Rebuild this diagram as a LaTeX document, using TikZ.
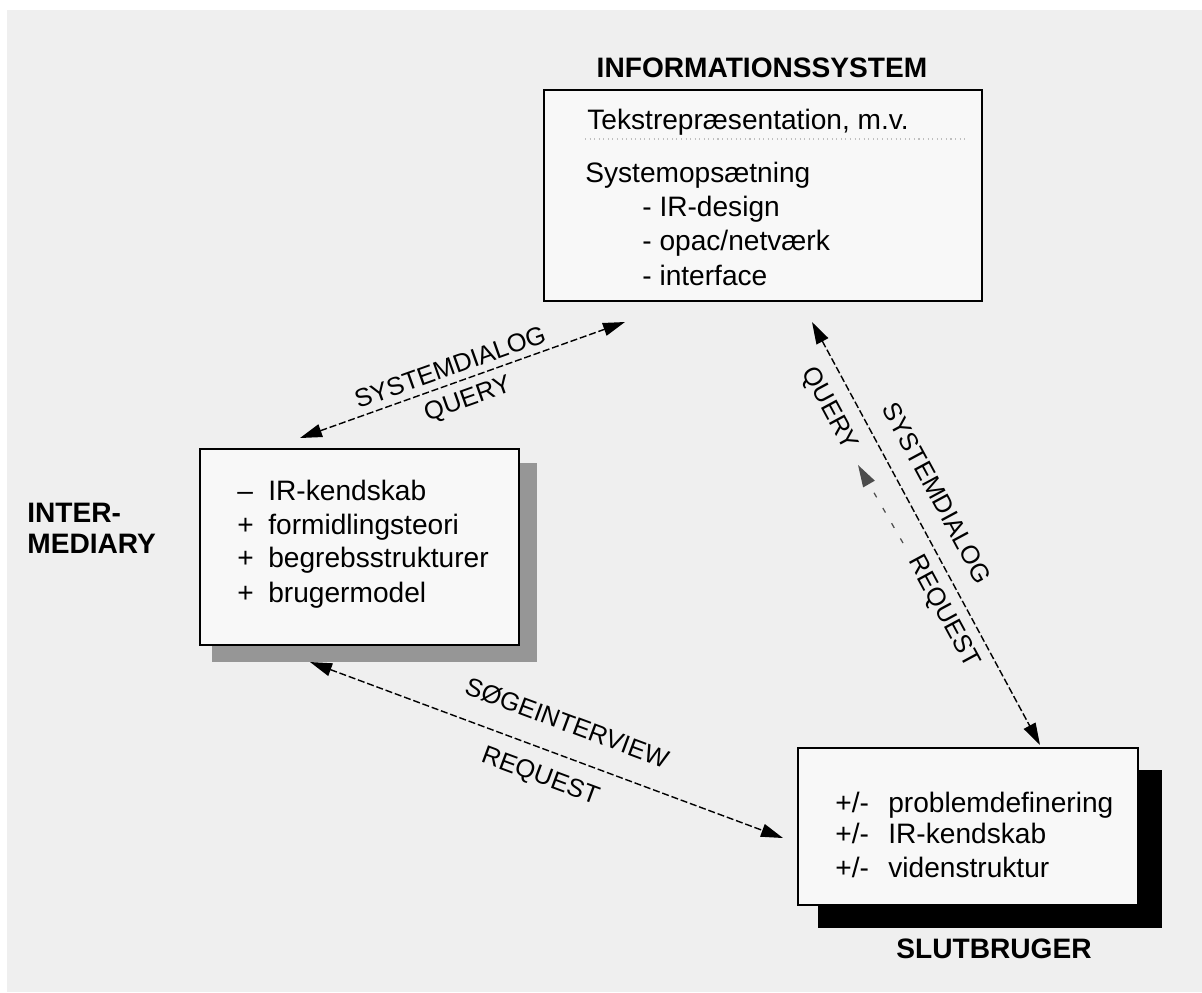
\documentclass[tikz,border=0pt]{standalone}
\usepackage{fontspec}
\setmainfont{Liberation Sans}
\usetikzlibrary{arrows.meta}
\definecolor{paper}{RGB}{239,239,239}
\definecolor{boxwhite}{RGB}{248,248,248}
\definecolor{shadegrey}{RGB}{150,150,150}

\begin{document}
\begin{tikzpicture}[x=0.02cm, y=-0.02cm,
    boxframe/.style={draw=black, line width=1.1pt, fill=boxwhite, inner sep=0pt},
    itemtext/.style={anchor=base west, inner sep=0pt, font=\fontsize{16}{19}\selectfont},
    headtext/.style={anchor=base west, inner sep=0pt, font=\fontsize{16}{19}\selectfont\bfseries},
    flow/.style={dash pattern=on 4pt off 1.6pt, line width=0.8pt,
      {Triangle[length=12.5pt,width=7.5pt]}-{Triangle[length=12.5pt,width=7.5pt]}},
    flowlabel/.style={inner sep=0pt, font=\fontsize{14.5}{17}\selectfont}]
  \useasboundingbox (0,0) rectangle (1202,992);
  % Page
  \fill[white] (0,0) rectangle (1202,992);
  \fill[paper] (7,10) rectangle (1202,992);

  % Informationssystem
  \node[boxframe, minimum width=8.76cm, minimum height=4.22cm] (infosys) at (763,195.5) {};
  \node[headtext, anchor=base] (infotitle) at (762,77) {INFORMATIONSSYSTEM};
  \node[itemtext] (tekst) at (587,129) {Tekstrepræsentation, m.v.};
  \draw[black!25, dotted, line width=0.6pt] (585,139) -- (968,139);
  \node[itemtext] (opsaet) at (585,182) {Systemopsætning};
  \node[itemtext] (irdesign) at (642,216) {- IR-design};
  \node[itemtext] (opac) at (642,250) {- opac/netværk};
  \node[itemtext] (interface) at (642,285) {- interface};

  % Intermediary (grey shadow)
  \fill[shadegrey] (212,463) rectangle (537,662);
  \node[boxframe, minimum width=6.38cm, minimum height=3.92cm] (inter) at (359.5,547) {};
  \node[headtext] (intertop) at (27,522) {INTER-};
  \node[headtext] (interbot) at (27,553) {MEDIARY};
  \foreach \sgn/\txt/\yy [count=\i] in {--/IR-kendskab/500, +/formidlingsteori/534,
      +/begrebsstrukturer/567, +/brugermodel/602}{
    \node[itemtext] (isgn\i) at (237,\yy) {\sgn};
    \node[itemtext] (itxt\i) at (268,\yy) {\txt};
  }

  % Slutbruger (black shadow)
  \fill[black] (818,770) rectangle (1162,928);
  \node[boxframe, minimum width=6.8cm, minimum height=3.14cm] (slut) at (968,826.5) {};
  \foreach \txt/\yy [count=\i] in {problemdefinering/812, IR-kendskab/843, videnstruktur/877}{
    \node[itemtext] (ssgn\i) at (835,\yy) {+/-};
    \node[itemtext] (stxt\i) at (888,\yy) {\txt};
  }
  \node[headtext, anchor=base] (slutlabel) at (994,958) {SLUTBRUGER};

  % Systemdialog between intermediary and system
  \coordinate (sdA) at (300,438);
  \coordinate (sdB) at (625,322);
  \draw[flow] (sdA) -- (sdB);
  \node[flowlabel, rotate=19.6] (sdtop) at (450,367) {SYSTEMDIALOG};
  \node[flowlabel, rotate=19.6] (sdbot) at (468,400) {QUERY};

  % Soegeinterview between intermediary and end user
  \coordinate (siA) at (310,662);
  \coordinate (siB) at (783,838);
  \draw[flow] (siA) -- (siB);
  \node[flowlabel, rotate=-20.4] (sitop) at (567,723) {SØGEINTERVIEW};
  \node[flowlabel, rotate=-20.4] (sibot) at (540,777) {REQUEST};

  % Systemdialog between system and end user
  \coordinate (rqA) at (812,322);
  \coordinate (rqB) at (1040,745);
  \draw[flow] (rqA) -- (rqB);
  \node[flowlabel, rotate=-61.7] (rqright) at (937,493) {SYSTEMDIALOG};
  \node[flowlabel, rotate=-61.7] (rqleft) at (829,409) {QUERY};
  \node[flowlabel, rotate=-61.7] (rqlow) at (943,612) {REQUEST};
  \coordinate (qtip) at (858,465);
  \coordinate (qtail) at (903,543);
  \draw[black!70, dash pattern=on 3pt off 7pt, line width=0.7pt,
    -{Triangle[length=12.5pt,width=7.5pt]}] (qtail) -- (qtip);
\end{tikzpicture}
\end{document}
